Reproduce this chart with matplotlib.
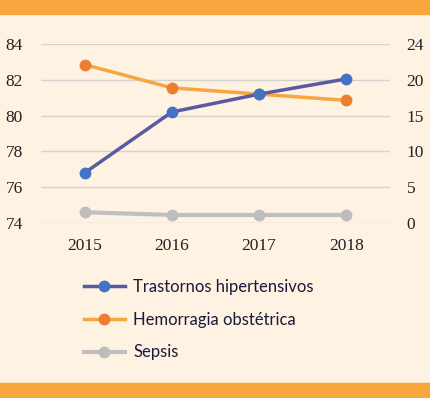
import matplotlib.pyplot as plt
from matplotlib.patches import Rectangle

# Datos
anios = ['2015', '2016', '2017', '2018']
trastornos = [76.8, 80.2, 81.2, 82.05]
hemorragia = [82.85, 81.55, 81.2, 80.85]
sepsis = [74.6, 74.45, 74.45, 74.45]
ticks_izq = [74, 76, 78, 80, 82, 84]
etiquetas_der = ['0', '5', '10', '15', '20', '24']

fondo = '#FEF2E2'
naranja = '#F9A53E'

fig = plt.figure(figsize=(4.31, 3.98), dpi=100, facecolor=fondo)
W, H = 431, 398

# Bandas naranjas
fig.patches.append(Rectangle((0, 1 - 14 / H), 1, 14 / H, transform=fig.transFigure,
                             color=naranja, zorder=0))
fig.patches.append(Rectangle((0, 0), 1, 15 / H, transform=fig.transFigure,
                             color=naranja, zorder=0))

ax = fig.add_axes([41 / W, 1 - 223 / H, (390 - 41) / W, (223 - 44) / H])
ax.set_facecolor(fondo)
x = range(len(anios))

ax.plot(x, sepsis, color='#BFBFBF', lw=3, marker='o', ms=7.5, mfc='#BDBDBD', mec='#BDBDBD',
        label='Sepsis', zorder=3)
ax.plot(x, hemorragia, color='#F8A640', lw=2.5, marker='o', ms=7.5, mfc='#ED7D31', mec='#ED7D31',
        label='Hemorragia obstétrica', zorder=4)
ax.plot(x, trastornos, color='#5A5AA0', lw=2.5, marker='o', ms=7.5, mfc='#4472C4', mec='#4472C4',
        label='Trastornos hipertensivos', zorder=5)

ax.set_xlim(-0.5, 3.5)
ax.set_ylim(74, 84)
ax.set_yticks(ticks_izq)
ax.set_xticks(list(x))
ax.set_xticklabels(anios)
ax.grid(axis='y', color='#D6D3CE', lw=1)
ax.set_axisbelow(True)
for s in ax.spines.values():
    s.set_visible(False)
ax.tick_params(length=0, labelsize=12.5, colors='#222222', pad=13)
ax.tick_params(axis='x', pad=11)
for lab in ax.get_xticklabels() + ax.get_yticklabels():
    lab.set_family('Liberation Serif')

ax2 = ax.twinx()
ax2.set_ylim(74, 84)
ax2.set_yticks(ticks_izq)
ax2.set_yticklabels(etiquetas_der)
for s in ax2.spines.values():
    s.set_visible(False)
ax2.tick_params(length=0, labelsize=12.5, colors='#222222', pad=12)
for lab in ax2.get_yticklabels():
    lab.set_family('Liberation Serif')

h, l = ax.get_legend_handles_labels()
fig.legend(h[::-1], l[::-1], loc='upper left', bbox_to_anchor=(69 / W, 1 - 264 / H),
           frameon=False, prop={'family': 'Lato', 'size': 12}, handlelength=2.45,
           labelspacing=1.0, handletextpad=0.5, labelcolor='#1a1a3a')

fig.savefig('out.png', dpi=100, facecolor=fondo)
